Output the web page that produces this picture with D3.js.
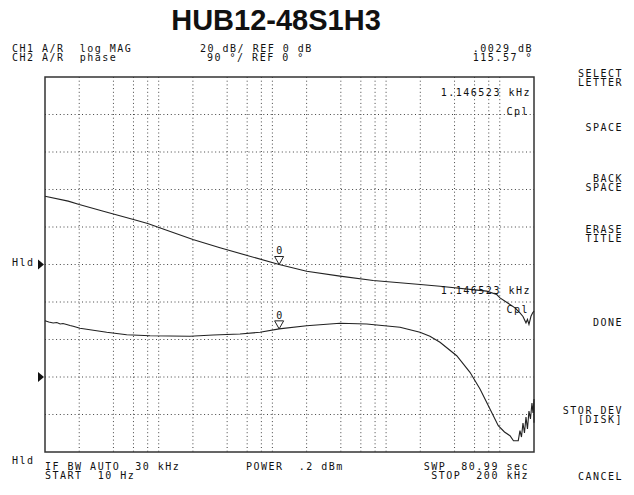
<!DOCTYPE html>
<html>
<head>
<meta charset="utf-8">
<script src="https://cdn.jsdelivr.net/npm/d3@7"></script>
<style>
  body { margin: 0; background: #fff; }
  text { font-family: "DejaVu Sans Mono", "Liberation Mono", monospace; font-size: 10px; letter-spacing: 1.5px; fill: #111; }
  .title { font-family: "Liberation Sans", Arial, sans-serif; font-weight: bold; font-size: 29px; letter-spacing: 0; }
</style>
</head>
<body>
<script>
// grid frequencies (2,4,6,8,10 per decade), 10 Hz .. 200 kHz log sweep
let gridFreq = [20, 40, 60, 80, 100, 200, 400, 600, 800, 1000, 2000, 4000, 6000, 8000,
    10000, 20000, 40000, 60000, 80000, 100000];

// CH1 log MAG (dB)
let magFreq = [10, 16, 20, 32.6, 60, 80, 117.6, 200, 346, 1146.5, 2000, 3930, 7710, 20000,
    29800, 76700, 94000, 100400, 122900, 136100, 150500, 160000, 170000, 175200, 180600,
    188100, 194700, 200000];
let magDb = [36.4, 33.8, 32.0, 28.4, 24.0, 21.9, 18.3, 13.3, 8.9, 0.0, -3.6, -6.2, -8.5, -10.7,
    -11.6, -14.2, -16.0, -17.8, -21.3, -23.1, -25.8, -27.7, -31.1, -29.3, -32.0,
    -27.6, -25.8, -24.9];

// CH2 phase (deg)
let phaseFreq = [10, 10.8, 11.8, 12.7, 13.6, 14.4, 15.5, 16.6, 17.7, 20.3, 34.9, 52.3, 83.9, 188,
    302, 519, 778, 1146.5, 2000, 3930, 6750, 13250, 19870, 24300, 29800, 41800, 54700,
    67000, 82000, 97000, 110000, 123000, 132000, 145400, 150500, 155200, 160000, 164900,
    170000, 175200, 180600, 186200, 191900, 195900, 200000, 200000];
let phaseDeg = [135.1, 132, 129.6, 130.8, 127.2, 128.4, 126, 123.6, 121.7, 116.9, 107.3, 101.5, 99.1, 97.7,
    100.8, 103.2, 107.3, 115.57, 123.1, 128.9, 127.2, 119.3, 107.3, 97.7, 83.3, 51.1, 11.3,
    -28.8, -76.8, -116.9, -132, -140.9, -152.9, -152.9, -128.9, -144, -110.4, -134.4,
    -96, -124.8, -81.6, -100.8, -62.4, -86.4, -52.8, -110];

let markerFreq = 1146.523, markerMag = 0.0029, markerPhase = 115.57;

let headerLeft = ["CH1 A/R  log MAG", "CH2 A/R  phase"];
let headerMid = ["20 dB/ REF 0 dB", "90 °/ REF 0 °"];
let headerRight = [".0029 dB", "115.57 °"];
let softkeys = [["SELECT", "LETTER"], ["SPACE"], ["BACK", "SPACE"], ["ERASE", "TITLE"],
    ["DONE"], ["STOR DEV", "[DISK]"], ["CANCEL"]];
let softkeyY = [77, 131, 182, 233, 326, 414, 480];

let W = 634, H = 495;
let pLeft = 45, pRight = 534, pTop = 77, pBottom = 452;

let svg = d3.select("body").append("svg")
    .attr("width", W).attr("height", H);

let x = d3.scaleLog().domain([10, 200000]).range([pLeft, pRight]);
let yMag = d3.scaleLinear().domain([-100, 100]).range([pBottom, pTop]);
let yPh = d3.scaleLinear().domain([-180, 720]).range([pBottom, pTop]);

// title
svg.append("text").attr("class", "title")
    .attr("x", 276).attr("y", 30).attr("text-anchor", "middle")
    .text("HUB12-48S1H3");

// grid
svg.append("g").selectAll("line")
    .data(gridFreq).enter().append("line")
    .attr("x1", d => x(d)).attr("x2", d => x(d))
    .attr("y1", pTop).attr("y2", pBottom)
    .attr("stroke", "#444").attr("stroke-dasharray", "1,2.7");

svg.append("g").selectAll("line")
    .data(d3.range(-80, 81, 20)).enter().append("line")
    .attr("x1", pLeft).attr("x2", pRight)
    .attr("y1", d => yMag(d)).attr("y2", d => yMag(d))
    .attr("stroke", "#444").attr("stroke-dasharray", "1,2.7");

svg.append("rect")
    .attr("x", pLeft).attr("y", pTop)
    .attr("width", pRight - pLeft).attr("height", pBottom - pTop)
    .attr("fill", "none").attr("stroke", "#333").attr("stroke-width", 1.5);

// traces
let magLine = d3.line().x(d => x(d[0])).y(d => yMag(d[1]));
let phLine = d3.line().x(d => x(d[0])).y(d => yPh(d[1]));

svg.append("path")
    .attr("d", magLine(d3.zip(magFreq, magDb)))
    .attr("fill", "none").attr("stroke", "#222").attr("stroke-width", 1.1);
svg.append("path")
    .attr("d", phLine(d3.zip(phaseFreq, phaseDeg)))
    .attr("fill", "none").attr("stroke", "#222").attr("stroke-width", 1.1);

// markers
[yMag(markerMag), yPh(markerPhase)].forEach(function (ty) {
    let mx = x(markerFreq);
    svg.append("path")
        .attr("d", `M${mx - 4.5},${ty - 8}L${mx + 4.5},${ty - 8}L${mx},${ty}Z`)
        .attr("fill", "none").attr("stroke", "#222").attr("stroke-width", 1);
    svg.append("text").attr("x", mx - 3).attr("y", ty - 10).text("0");
});

// reference arrows
[yMag(0), yPh(0)].forEach(function (ry) {
    svg.append("path")
        .attr("d", `M${pLeft - 7},${ry - 5}L${pLeft - 1},${ry}L${pLeft - 7},${ry + 5}Z`)
        .attr("fill", "#111");
});

// texts
svg.selectAll(".hl").data(headerLeft).enter().append("text")
    .attr("x", 12).attr("y", (d, i) => 52 + i * 9)
    .style("white-space", "pre").text(d => d);
svg.append("text").attr("x", 200).attr("y", 52).style("white-space", "pre").text(headerMid[0]);
svg.append("text").attr("x", 207).attr("y", 61).style("white-space", "pre").text(headerMid[1]);
svg.selectAll(".hr").data(headerRight).enter().append("text")
    .attr("x", 533).attr("y", (d, i) => 52 + i * 9).attr("text-anchor", "end").text(d => d);

svg.append("text").attr("x", 531).attr("y", 96).attr("text-anchor", "end").text("1.146523 kHz");
svg.append("text").attr("x", 529).attr("y", 115).attr("text-anchor", "end").text("Cpl");
svg.append("text").attr("x", 531).attr("y", 294).attr("text-anchor", "end").text("1.146523 kHz");
svg.append("text").attr("x", 529).attr("y", 313).attr("text-anchor", "end").text("Cpl");

svg.append("text").attr("x", 12).attr("y", 266).text("Hld");
svg.append("text").attr("x", 12).attr("y", 464).text("Hld");

svg.append("text").attr("x", 45).attr("y", 470).style("white-space", "pre").text("IF BW AUTO  30 kHz");
svg.append("text").attr("x", 45).attr("y", 479).style("white-space", "pre").text("START  10 Hz");
svg.append("text").attr("x", 246).attr("y", 470).style("white-space", "pre").text("POWER  .2 dBm");
svg.append("text").attr("x", 529).attr("y", 470).attr("text-anchor", "end").style("white-space", "pre").text("SWP  80.99 sec");
svg.append("text").attr("x", 529).attr("y", 479).attr("text-anchor", "end").style("white-space", "pre").text("STOP  200 kHz");

softkeys.forEach(function (lines, k) {
    lines.forEach(function (s, j) {
        svg.append("text")
            .attr("x", 623).attr("y", softkeyY[k] + j * 9)
            .attr("text-anchor", "end").style("white-space", "pre").text(s);
    });
});
</script>
</body>
</html>
